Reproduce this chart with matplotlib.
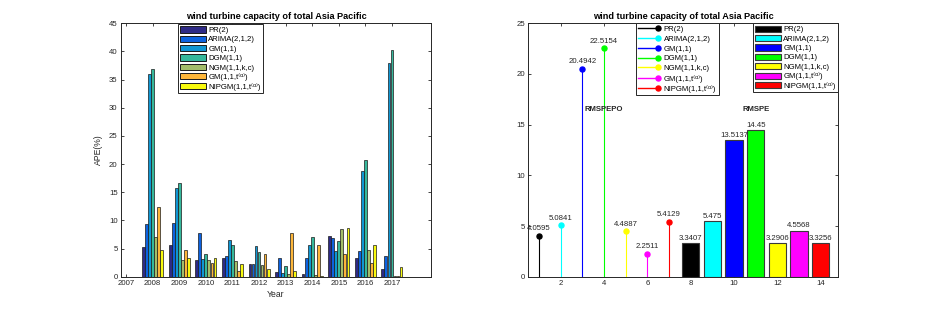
import numpy as np
import matplotlib
matplotlib.use("Agg")
import matplotlib.pyplot as plt
from matplotlib.legend_handler import HandlerLine2D
from matplotlib.patches import Patch
from matplotlib.lines import Line2D

plt.rcParams["font.family"] = ["Liberation Sans", "DejaVu Sans"]

MODELS = ["PR(2)", "ARIMA(2,1,2)", "GM(1,1)", "DGM(1,1)", "NGM(1,1,k,c)",
          "GM(1,1,t\u207d\u1d45\u207e)", "NIPGM(1,1,t\u207d\u1d45\u207e)"]
YEARS = ["2007", "2008", "2009", "2010", "2011", "2012", "2013", "2014",
         "2015", "2016", "2017"]

# APE (%) per year, one list per model
ape_pr     = [0, 5.2, 5.7, 2.9, 3.4, 2.3, 0.9, 0.4, 7.2, 3.3, 1.4]
ape_arima  = [0, 9.3, 9.6, 7.8, 3.6, 2.2, 3.3, 3.4, 6.8, 4.6, 3.6]
ape_gm     = [0, 36.0, 15.8, 3.2, 6.6, 5.4, 0.7, 5.6, 4.6, 18.8, 37.9]
ape_dgm    = [0, 36.8, 16.6, 4.0, 5.7, 4.3, 1.9, 7.1, 6.3, 20.8, 40.3]
ape_ngm    = [0, 7.0, 3.0, 3.0, 2.8, 2.0, 0.5, 0.3, 8.4, 4.7, 0.2]
ape_gmt    = [0, 12.4, 4.8, 2.4, 1.1, 4.1, 7.7, 5.7, 4.1, 2.4, 0.1]
ape_nipgm  = [0, 4.8, 3.4, 3.4, 2.3, 1.4, 1.1, 0.1, 8.6, 5.7, 1.7]
ape_all = [ape_pr, ape_arima, ape_gm, ape_dgm, ape_ngm, ape_gmt, ape_nipgm]

rmspepo = [4.0595, 5.0841, 20.4942, 22.5154, 4.4887, 2.2511, 5.4129]
rmspe = [3.3407, 5.475, 13.5137, 14.45, 3.2906, 4.5568, 3.3256]

parula7 = ["#2e2a86", "#0d62df", "#0f96d4", "#36b89c", "#a3bd6a", "#fdb63a", "#f8fa0e"]
basic7 = ["#000000", "#00ffff", "#0000ff", "#00ff00", "#ffff00", "#ff00ff", "#ff0000"]
INK = "#262626"
FS = 5.6
TITLE = "wind turbine capacity of total Asia Pacific"

fig = plt.figure(figsize=(9.26, 3.11), dpi=100)


def matlab_box(ax):
    ax.tick_params(direction="in", top=True, right=True, length=2.5, width=0.6,
                   colors=INK, labelsize=FS, pad=2.5)
    for s in ax.spines.values():
        s.set_linewidth(0.7)
        s.set_color(INK)


def boxed_legend(ax, handles, **kw):
    kw.setdefault("handletextpad", 0.35)
    kw.setdefault("handlelength", 3.3)
    leg = ax.legend(handles, MODELS, bbox_transform=fig.transFigure, fontsize=FS,
                    borderpad=0.3, borderaxespad=0, fancybox=False,
                    edgecolor=INK, framealpha=1, **kw)
    leg.get_frame().set_linewidth(0.7)
    return leg


# ---- left: grouped APE bars ----
ax1 = fig.add_axes([0.1307, 0.1103, 0.3348, 0.8148])
x = np.arange(1, len(YEARS) + 1)
w = 0.8 / 7
patches = []
for i, (vals, c) in enumerate(zip(ape_all, parula7)):
    ax1.bar(x + (i - 3) * w, vals, width=w * 0.92, color=c, edgecolor="#1a1a1a",
            linewidth=0.5, zorder=2)
    patches.append(Patch(facecolor=c, edgecolor="#1a1a1a", linewidth=0.7))
ax1.set_xlim(0.81, 12.47)
ax1.set_ylim(0, 45)
ax1.set_yticks(range(0, 46, 5))
ax1.set_xticks(x)
ax1.set_xticklabels(YEARS)
ax1.set_xlabel("Year", fontsize=6.2, color=INK, labelpad=2)
ax1.set_ylabel("APE(%)", fontsize=6.2, color=INK, labelpad=4)
ax1.set_title(TITLE, fontsize=6.6, fontweight="bold", pad=3)
matlab_box(ax1)
boxed_legend(ax1, patches, loc="upper left",
             bbox_to_anchor=(177.7 / 926, 1 - 24 / 311),
             handleheight=0.85, labelspacing=0.2)

# ---- right: RMSPEPO stems + RMSPE bars ----
ax2 = fig.add_axes([0.5705, 0.1103, 0.3348, 0.8148])
stem_handles = []
for i, (v, c) in enumerate(zip(rmspepo, basic7)):
    xi = i + 1
    ax2.vlines(xi, 0, v, color=c, linewidth=0.8, zorder=2)
    ax2.plot([xi], [v], "o", color=c, markersize=3.6, zorder=3)
    ax2.text(xi, v + 0.35, f"{v:g}", ha="center", va="bottom", fontsize=FS, color=INK)
    stem_handles.append(Line2D([0], [0], color=c, lw=1.0, marker="o", markersize=3.6,
                               markerfacecolor=c, markeredgecolor=c))
bar_handles = []
for i, (v, c) in enumerate(zip(rmspe, basic7)):
    xi = i + 8
    ax2.bar(xi, v, width=0.8, color=c, edgecolor="#3a3a3a", linewidth=0.8, zorder=2)
    ax2.text(xi, v + 0.1, f"{v:g}", ha="center", va="bottom", fontsize=FS, color=INK)
    bar_handles.append(Patch(facecolor=c, edgecolor="#3a3a3a", linewidth=0.8))
ax2.text(4, 16.45, "RMSPEPO", ha="center", va="center", fontsize=FS,
         fontweight="bold", color=INK)
ax2.text(11, 16.45, "RMSPE", ha="center", va="center", fontsize=FS,
         fontweight="bold", color=INK)
ax2.set_xlim(0.505, 14.81)
ax2.set_ylim(0, 25)
ax2.set_xticks(range(2, 15, 2))
ax2.set_yticks(range(0, 26, 5))
ax2.set_title(TITLE, fontsize=6.6, fontweight="bold", pad=3)
matlab_box(ax2)


class EndMarker(HandlerLine2D):
    # stem legend: marker at the right end of the line
    def create_artists(self, *args, **kwargs):
        arts = super().create_artists(*args, **kwargs)
        for a in arts:
            a.set_markevery([2])
        return arts


leg1 = boxed_legend(ax2, stem_handles, loc="upper left",
                    bbox_to_anchor=(635.7 / 926, 1 - 23.3 / 311), numpoints=1,
                    handler_map={Line2D: EndMarker()}, labelspacing=0.3,
                    handlelength=2.6, handletextpad=0.7)
ax2.add_artist(leg1)
boxed_legend(ax2, bar_handles, loc="upper right",
             bbox_to_anchor=(838.3 / 926, 1 - 23.3 / 311),
             handleheight=0.85, labelspacing=0.2)

fig.savefig("out.png", dpi=100)
